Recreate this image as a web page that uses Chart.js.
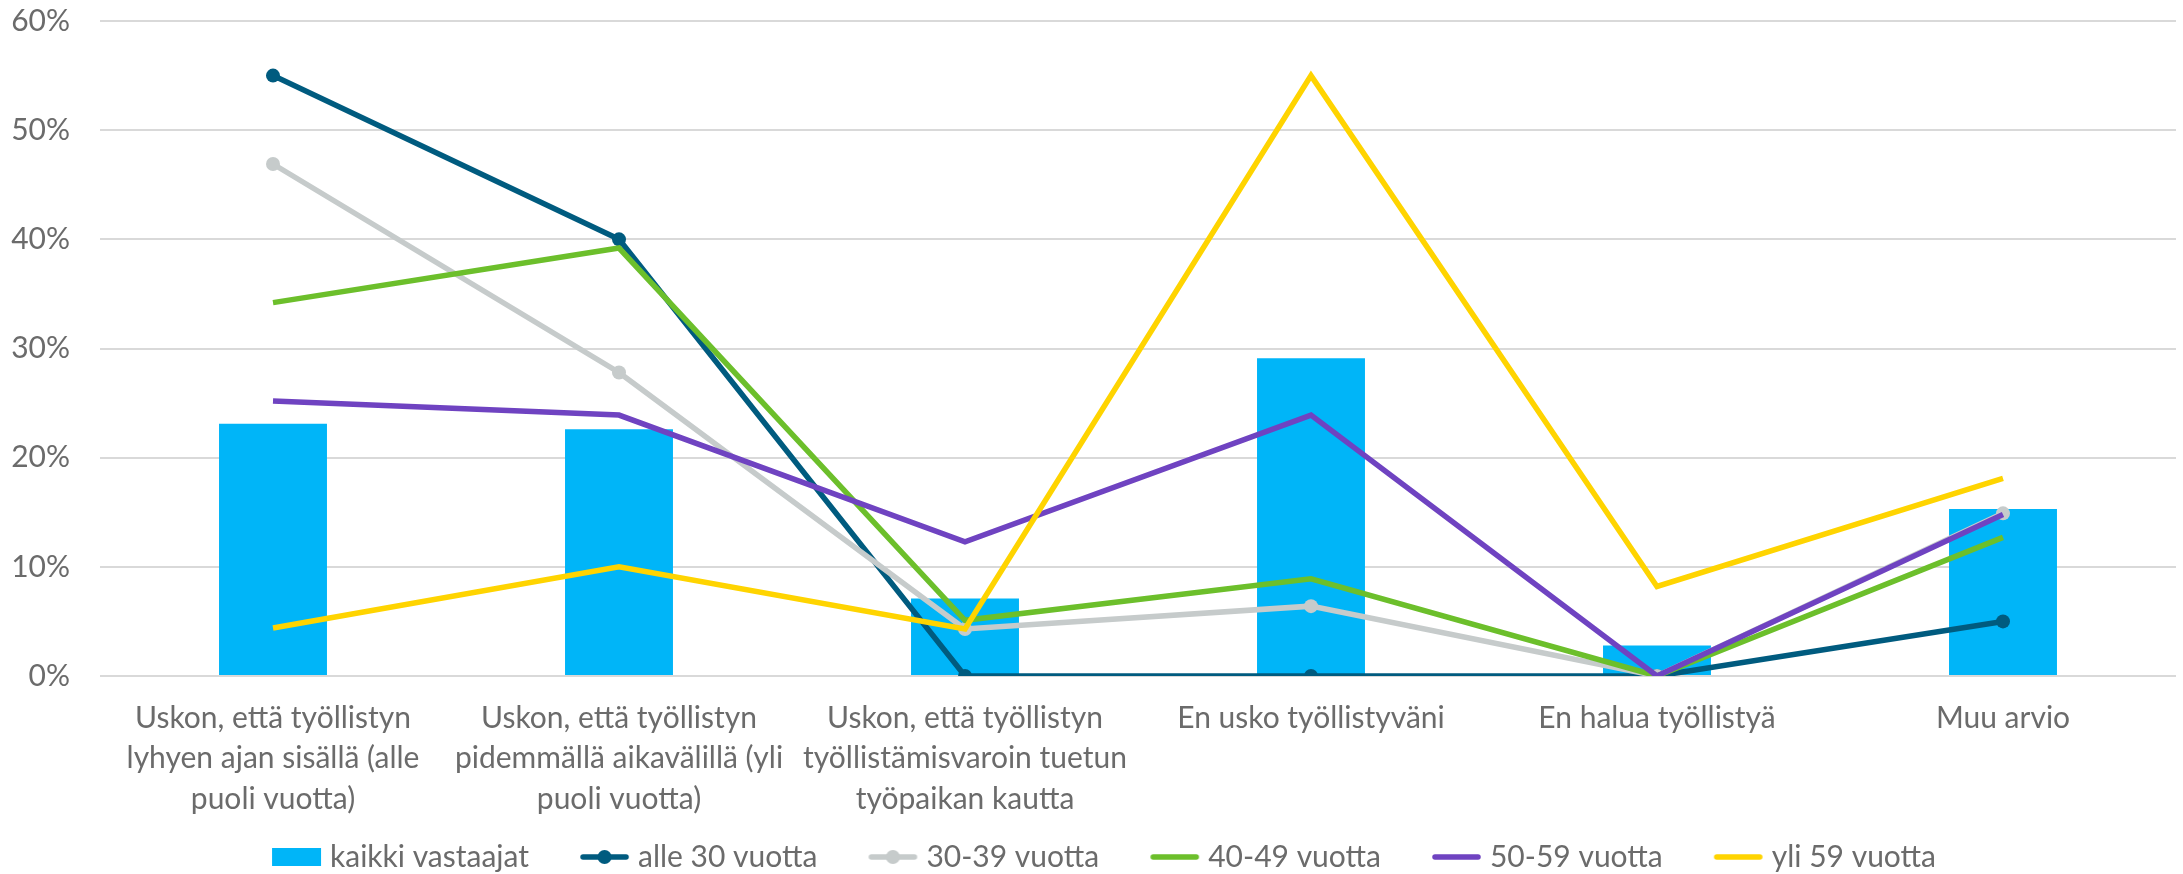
<!DOCTYPE html>
<html lang="fi">
<head>
<meta charset="utf-8">
<title>Arvio työllistymisestä ikäryhmittäin</title>
<script src="https://cdn.jsdelivr.net/npm/chart.js@4.4.1/dist/chart.umd.min.js"></script>
<style>
  html, body { margin: 0; padding: 0; background: #fff; overflow: hidden; }
  #wrap { width: 2183px; height: 874px; }
</style>
</head>
<body>
<div id="wrap"><canvas id="chart" width="2183" height="874"></canvas></div>
<script>
// Vastausvaihtoehdot (x-akselin rivitetyt nimet)
const categories = [
  ['Uskon, että työllistyn', 'lyhyen ajan sisällä (alle', 'puoli vuotta)'],
  ['Uskon, että työllistyn', 'pidemmällä aikavälillä (yli', 'puoli vuotta)'],
  ['Uskon, että työllistyn', 'työllistämisvaroin tuetun', 'työpaikan kautta'],
  'En usko työllistyväni',
  'En halua työllistyä',
  'Muu arvio'
];

// Osuudet prosentteina
const kaikki = [23.1, 22.6, 7.1, 29.1, 2.8, 15.3];
const alle30 = [55.0, 40.0, 0, 0, 0, 5.0];
const ika30_39 = [46.9, 27.8, 4.3, 6.4, 0, 14.9];
const ika40_49 = [34.2, 39.2, 5.1, 8.9, 0, 12.7];
const ika50_59 = [25.2, 23.9, 12.3, 23.9, 0, 14.8];
const yli59 = [4.4, 10.0, 4.3, 55.0, 8.2, 18.1];

const yTicks = [0, 10, 20, 30, 40, 50, 60];

const FONT = 'Lato, "Liberation Sans", sans-serif';
const TEXT = '#6b6b6b';

// pienet kuvakkeet selitteeseen: laatikko pylväille, viiva (ja pallo) viivoille.
// Kangas on leveämpi kuin varattu tila; kuvake on sen oikeassa reunassa,
// jolloin väli edelliseen kohtaan kasvaa ja väli omaan tekstiin pienenee.
function legendIcon(color, kind, dot) {
  const c = document.createElement('canvas');
  c.width = 90; c.height = 20;
  const g = c.getContext('2d');
  if (kind === 'box') {
    g.fillStyle = color;
    g.fillRect(39, 1, 49, 18);
  } else {
    g.strokeStyle = color;
    g.lineWidth = 5.5;
    g.lineCap = 'round';
    g.beginPath(); g.moveTo(42, 10); g.lineTo(85, 10); g.stroke();
    if (dot) {
      g.fillStyle = color;
      g.beginPath(); g.arc(63.5, 10, 7, 0, Math.PI * 2); g.fill();
    }
  }
  return c;
}

function lineSet(label, data, color, order, markers) {
  return {
    type: 'line',
    label: label,
    data: data,
    borderColor: color,
    backgroundColor: color,
    borderWidth: 5.5,
    tension: 0,
    pointRadius: markers ? 7 : 0,
    pointBorderWidth: 0,
    pointBackgroundColor: color,
    order: order,
    icon: legendIcon(color, 'line', markers)
  };
}

const datasets = [
  {
    type: 'bar',
    label: 'kaikki vastaajat',
    data: kaikki,
    backgroundColor: '#00b5f8',
    borderWidth: 0,
    categoryPercentage: 1,
    barPercentage: 0.312,
    order: 10,
    icon: legendIcon('#00b5f8', 'box')
  },
  lineSet('alle 30 vuotta', alle30, '#005b7f', 6, true),
  lineSet('30-39 vuotta', ika30_39, '#c6cbcb', 5, true),
  lineSet('40-49 vuotta', ika40_49, '#6cbf2b', 4, false),
  lineSet('50-59 vuotta', ika50_59, '#6f43c1', 3, false),
  lineSet('yli 59 vuotta', yli59, '#ffd400', 2, false)
];

new Chart(document.getElementById('chart'), {
  data: { labels: categories, datasets: datasets },
  options: {
    responsive: false,
    devicePixelRatio: 1,
    animation: false,
    layout: { padding: { top: 21, right: 6, bottom: -8, left: 0 } },
    plugins: {
      tooltip: { enabled: false },
      legend: {
        position: 'bottom',
        labels: {
          usePointStyle: true,
          pointStyleWidth: 74,
          padding: 20,
          color: TEXT,
          font: { family: FONT, size: 30 },
          generateLabels: function(chart) {
            return chart.data.datasets.map(function(ds, i) {
              return {
                text: ds.label,
                pointStyle: ds.icon,
                fillStyle: ds.backgroundColor,
                strokeStyle: ds.borderColor,
                lineWidth: 0,
                fontColor: TEXT,
                hidden: false,
                datasetIndex: i
              };
            });
          }
        }
      }
    },
    scales: {
      x: {
        offset: true,
        afterFit: function(scale) { scale.height = 146; },
        grid: { display: false },
        border: { display: false },
        ticks: {
          color: TEXT,
          padding: 14,
          maxRotation: 0,
          autoSkip: false,
          font: { family: FONT, size: 30, lineHeight: 1.35 }
        }
      },
      y: {
        min: 0,
        max: 60,
        afterFit: function(scale) {
          scale.width = 100;
          scale.paddingTop = 0;
          scale.paddingBottom = 0;
        },
        afterBuildTicks: function(scale) {
          scale.ticks = yTicks.map(function(v) { return { value: v }; });
        },
        grid: { color: '#d9d9d9', lineWidth: 2, drawTicks: false },
        border: { display: false },
        ticks: {
          color: TEXT,
          padding: 30,
          font: { family: FONT, size: 30, lineHeight: 1 },
          callback: function(v) { return v + '%'; }
        }
      }
    }
  }
});
</script>
</body>
</html>
